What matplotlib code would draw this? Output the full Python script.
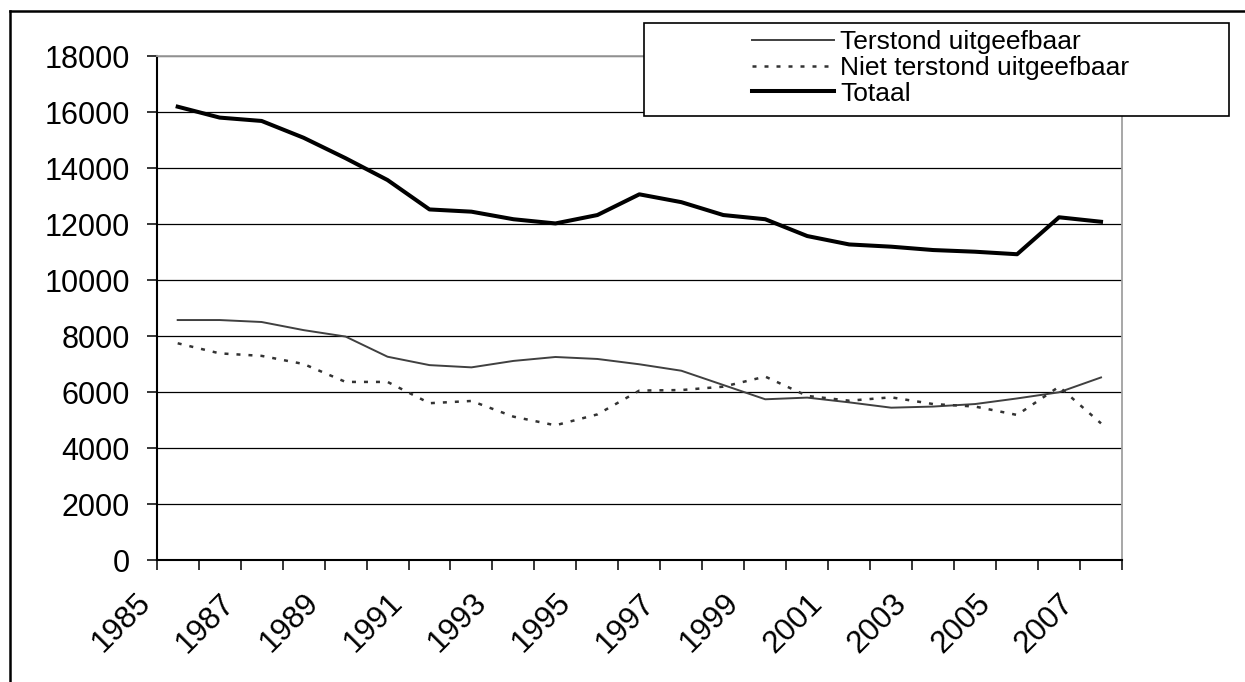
import matplotlib.pyplot as plt
from matplotlib.lines import Line2D
from matplotlib.patches import Rectangle
import numpy as np

years = list(range(1985, 2008))
terstond = [8570, 8570, 8500, 8210, 7980, 7260, 6960, 6880, 7110, 7250, 7180,
            6990, 6760, 6250, 5740, 5800, 5630, 5440, 5480, 5570, 5770, 5990, 6520]
niet_terstond = [7740, 7380, 7290, 7000, 6360, 6360, 5600, 5680, 5120, 4810, 5200,
                 6050, 6070, 6190, 6550, 5860, 5690, 5810, 5570, 5480, 5180, 6190, 4880]
totaal = [16190, 15800, 15680, 15080, 14350, 13570, 12520, 12440, 12170, 12020, 12320,
          13060, 12780, 12320, 12170, 11570, 11270, 11190, 11070, 11010, 10920, 12240, 12080]
labels = ["Terstond uitgeefbaar", "Niet terstond uitgeefbaar", "Totaal"]

plt.rcParams['font.family'] = ['Liberation Sans', 'DejaVu Sans']

W, H = 1245, 682
fig = plt.figure(figsize=(W / 100, H / 100), dpi=100)
ax = fig.add_axes([156.7 / W, 1 - 560 / H, (1122 - 156.7) / W, (560 - 56) / H])

x = np.arange(len(years))
l1, = ax.plot(x, terstond, color='#404040', lw=1.4)
l2, = ax.plot(x, niet_terstond, color='#333333', lw=1.8, dashes=(1.6, 3.2))
l3, = ax.plot(x, totaal, color='black', lw=2.9)

ax.set_xlim(-0.5, len(years) - 0.5)
ax.set_ylim(0, 18000)
ax.set_yticks(range(0, 18001, 2000))
ax.yaxis.grid(True, color='black', lw=0.9)
ax.set_axisbelow(True)

# tick marks between categories, label every other year at the left boundary
bounds = np.arange(-0.5, len(years), 1)
ax.set_xticks(bounds)
xt = [str(years[i]) if (i < len(years) and i % 2 == 0) else '' for i in range(len(bounds))]
ax.set_xticklabels(xt, rotation=45, ha='right')

ax.tick_params(axis='x', length=7.2, width=1.1, pad=13, labelsize=22.5)
ax.tick_params(axis='y', length=7.2, width=1.1, pad=12, labelsize=22, direction='out')

for s in ['left', 'bottom']:
    ax.spines[s].set_color('black')
    ax.spines[s].set_linewidth(1.5)
for s in ['top', 'right']:
    ax.spines[s].set_color('#a0a0a0')
    ax.spines[s].set_linewidth(1.3)

# outer chart border (only top and left visible)
fig.add_artist(Line2D([10 / W, 1], [1 - 10.7 / H, 1 - 10.7 / H], color='black', lw=1.8,
                      transform=fig.transFigure))
fig.add_artist(Line2D([10 / W, 10 / W], [1 - 10.7 / H, 0], color='black', lw=1.8,
                      transform=fig.transFigure))

# legend frame
fig.add_artist(Rectangle((644 / W, 1 - 115.7 / H), (1229 - 644) / W, (115.7 - 22.7) / H,
                         transform=fig.transFigure, facecolor='white', edgecolor='black',
                         lw=1.2, zorder=5))
leg = fig.legend([l1, l2, l3], labels, loc='upper left',
                 bbox_to_anchor=(752 / W, 1 - 30 / H), frameon=False,
                 fontsize=19, handlelength=3.1, handletextpad=0.25,
                 labelspacing=0.07, borderpad=0, borderaxespad=0)
leg.set_zorder(6)

fig.savefig('out.png', dpi=100)
